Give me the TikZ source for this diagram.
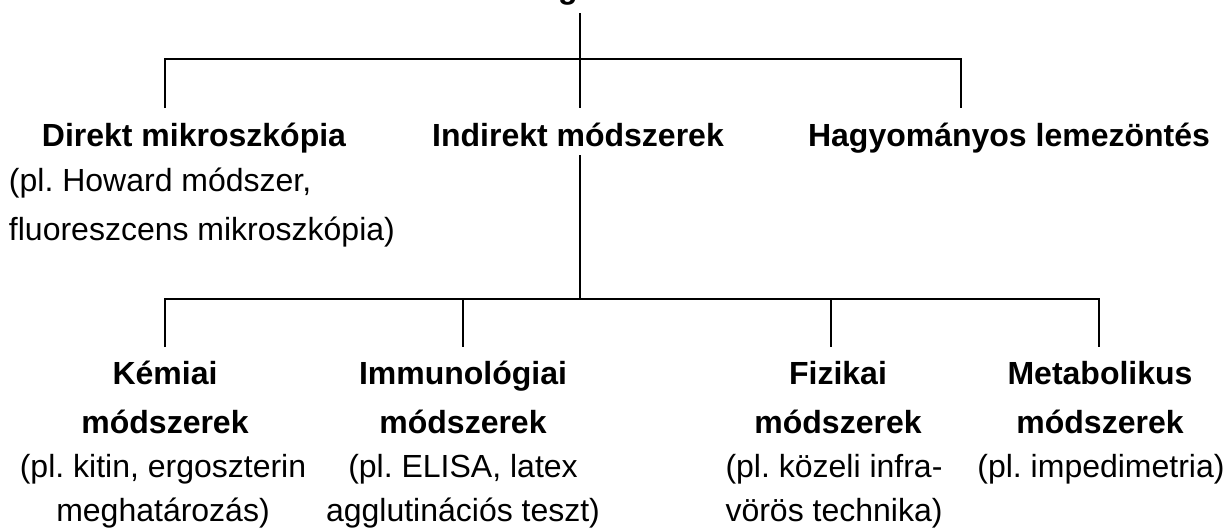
\documentclass[tikz,border=0pt]{standalone}
\usepackage{fontspec}
\setmainfont{Liberation Sans}
\usetikzlibrary{positioning}
\frenchspacing

\begin{document}
\begin{tikzpicture}[x=0.5pt,y=-0.5pt,line width=1pt,
  every node/.style={inner sep=0pt,anchor=base,align=center},
  fo/.style={font=\fontsize{16}{24.5}\selectfont\bfseries},
  pl/.style={font=\fontsize{16}{22}\selectfont}]
\useasboundingbox (0,0) rectangle (1229,531);
\clip (0,0) rectangle (1229,531);

% felso szint
\node[fo] (cim) at (568,-2) {g};
\node[fo] (direkt) at (194,146) {Direkt mikroszkópia};
\node[pl,anchor=base west,align=left,font=\fontsize{16}{24.5}\selectfont] (direktpl) at (8,240) {(pl. Howard módszer,\\fluoreszcens mikroszkópia)};
\node[fo] (indirekt) at (578,146) {Indirekt módszerek};
\node[fo] (hagyom) at (1009,146) {Hagyományos lemezöntés};

% also szint
\node[fo] (kemiai) at (165,433) {Kémiai\\módszerek};
\node[pl] (kemiaipl) at (163,521) {(pl. kitin, ergoszterin\\meghatározás)};
\node[fo] (immuno) at (463,433) {Immunológiai\\módszerek};
\node[pl] (immunopl) at (463,521) {(pl. ELISA, latex\\agglutinációs teszt)};
\node[fo] (fizikai) at (838,433) {Fizikai\\módszerek};
\node[pl] (fizikaipl) at (834,521) {(pl. közeli infra-\\vörös technika)};
\node[fo] (metab) at (1100,433) {Metabolikus\\módszerek};
\node[pl] (metabpl) at (1101,477) {(pl. impedimetria)};

% vonalak vegpontjai
\coordinate (gyoker) at (580,13);
\coordinate (elag1) at (580,59);
\coordinate (direktbe) at (165,108);
\coordinate (indirektbe) at (580,108);
\coordinate (hagyombe) at (961,108);
\coordinate (indirektki) at (580,155);
\coordinate (elag2) at (580,299);
\coordinate (kemiaibe) at (165,347);
\coordinate (immunobe) at (463,347);
\coordinate (fizikaibe) at (831,347);
\coordinate (metabbe) at (1099,347);

\draw (gyoker) -- (elag1) -- (indirektbe);
\draw (direktbe) -- (direktbe |- elag1) -- (hagyombe |- elag1) -- (hagyombe);
\draw (indirektki) -- (elag2);
\draw (kemiaibe) -- (kemiaibe |- elag2) -- (metabbe |- elag2) -- (metabbe);
\foreach \ag in {immunobe,fizikaibe}
\draw (\ag |- elag2) -- (\ag);
\end{tikzpicture}
\end{document}
